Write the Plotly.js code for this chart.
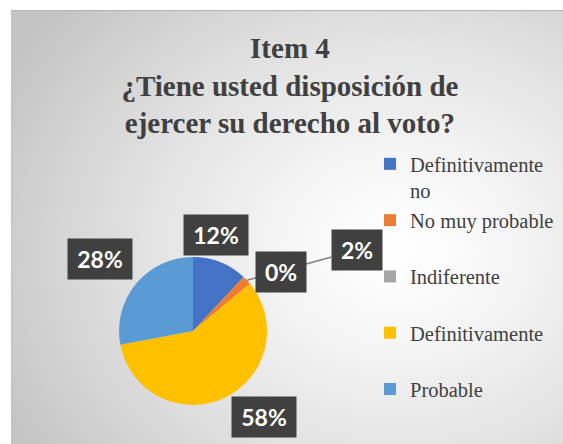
<!DOCTYPE html>
<html>
<head>
<meta charset="utf-8">
<script src="https://cdn.plot.ly/plotly-3.0.1.min.js"></script>
<style>
  html, body { margin: 0; padding: 0; background: #ffffff; }
  #wrap { position: relative; width: 563px; height: 444px; overflow: hidden; background: #ffffff; }
  #bg {
    position: absolute; left: 11px; top: 10px; right: 0; bottom: 0;
    border-top: 1px solid #b4b4b4; border-left: 1px solid #c0c0c0;
    background: radial-gradient(ellipse 80% 85% at 70% 55%, #ffffff 0%, #f7f7f7 22%, #e4e4e4 55%, #cfcfcf 85%, #c4c4c4 100%);
  }
  #chart { position: absolute; left: 0; top: 0; width: 563px; height: 444px; }
</style>
</head>
<body>
<div id="wrap"><div id="bg"></div><div id="chart"></div></div>
<script>
// ---- data ----
const categories = ["Definitivamente no", "No muy probable", "Indiferente", "Definitivamente", "Probable"];
const values = [12, 2, 0, 58, 28];
const legendLabels = ["Definitivamente<br>no", "No muy probable<br>\u00a0", "Indiferente<br>\u00a0", "Definitivamente<br>\u00a0", "Probable<br>\u00a0"];
const colors = ["#4472C4", "#ED7D31", "#A5A5A5", "#FFC000", "#5B9BD5"];

// ---- layout / style ----
const W = 563, H = 444;
const cx = 193, cy = 331, r = 74;           // pie centre and radius in pixels
// label box centre offsets (px) from pie centre, Excel "best fit" placement
const labelOffsets = [[23, -96], [164, -81], [88, -59], [71, 86], [-93, -72]];
const arrowFor = [false, true, false, false, false];

const px = x => x / W;
const py = y => 1 - y / H;

const total = values.reduce((a, b) => a + b, 0);
let cum = 0;
const anns = [];
const order = [1, 0, 2, 3, 4]; // draw the 2% (with leader) first so 0% sits over its line
const mids = values.map(v => {
  const mid = (cum + v / 2) / total * 2 * Math.PI;
  cum += v;
  return mid;
});
order.forEach(i => {
  const pct = Math.round(values[i] / total * 100) + '%';
  const [dx, dy] = labelOffsets[i];
  const base = {
    text: pct,
    font: {family: 'Lato, "Open Sans", sans-serif', size: 23, color: '#ffffff', weight: 'bold'},
    bgcolor: '#404040',
    borderpad: 6,
    width: 14 * pct.length + 10,
    height: 28,
    xref: 'paper', yref: 'paper',
    xanchor: 'center', yanchor: 'middle'
  };
  if (arrowFor[i]) {
    const ex = cx + r * Math.sin(mids[i]);
    const ey = cy - r * Math.cos(mids[i]);
    anns.push(Object.assign(base, {
      x: px(ex), y: py(ey),
      showarrow: true, arrowhead: 0, arrowwidth: 1.5, arrowcolor: '#808080',
      standoff: 0,
      ax: cx + dx - ex, ay: cy + dy - ey
    }));
  } else {
    anns.push(Object.assign(base, {
      x: px(cx + dx), y: py(cy + dy), showarrow: false
    }));
  }
});

const trace = {
  type: 'pie',
  labels: legendLabels,
  values: values,
  sort: false,
  direction: 'clockwise',
  rotation: 0,
  textinfo: 'none',
  hoverinfo: 'label+percent',
  marker: {colors: colors, line: {width: 0}},
  domain: {x: [px(cx - r), px(cx + r)], y: [py(cy + r), py(cy - r)]}
};

const layout = {
  width: W, height: H,
  margin: {l: 0, r: 0, t: 0, b: 0},
  paper_bgcolor: 'rgba(0,0,0,0)',
  plot_bgcolor: 'rgba(0,0,0,0)',
  title: {
    text: 'Item 4<br>¿Tiene usted disposición de<br>ejercer su derecho al voto?',
    font: {family: 'Liberation Serif', size: 29, color: '#404040', weight: 'bold'},
    x: 0.515, xanchor: 'center',
    y: 1 - 58 / H, yanchor: 'top', yref: 'container'
  },
  showlegend: true,
  legend: {
    x: px(370), y: py(144), xanchor: 'left', yanchor: 'top',
    font: {family: 'Liberation Serif', size: 20.5, color: '#404040'},
    bgcolor: 'rgba(0,0,0,0)',
    valign: 'top',
    traceorder: 'normal'
  },
  annotations: anns
};

Plotly.newPlot('chart', [trace], layout, {displayModeBar: false, staticPlot: true});
</script>
</body>
</html>
